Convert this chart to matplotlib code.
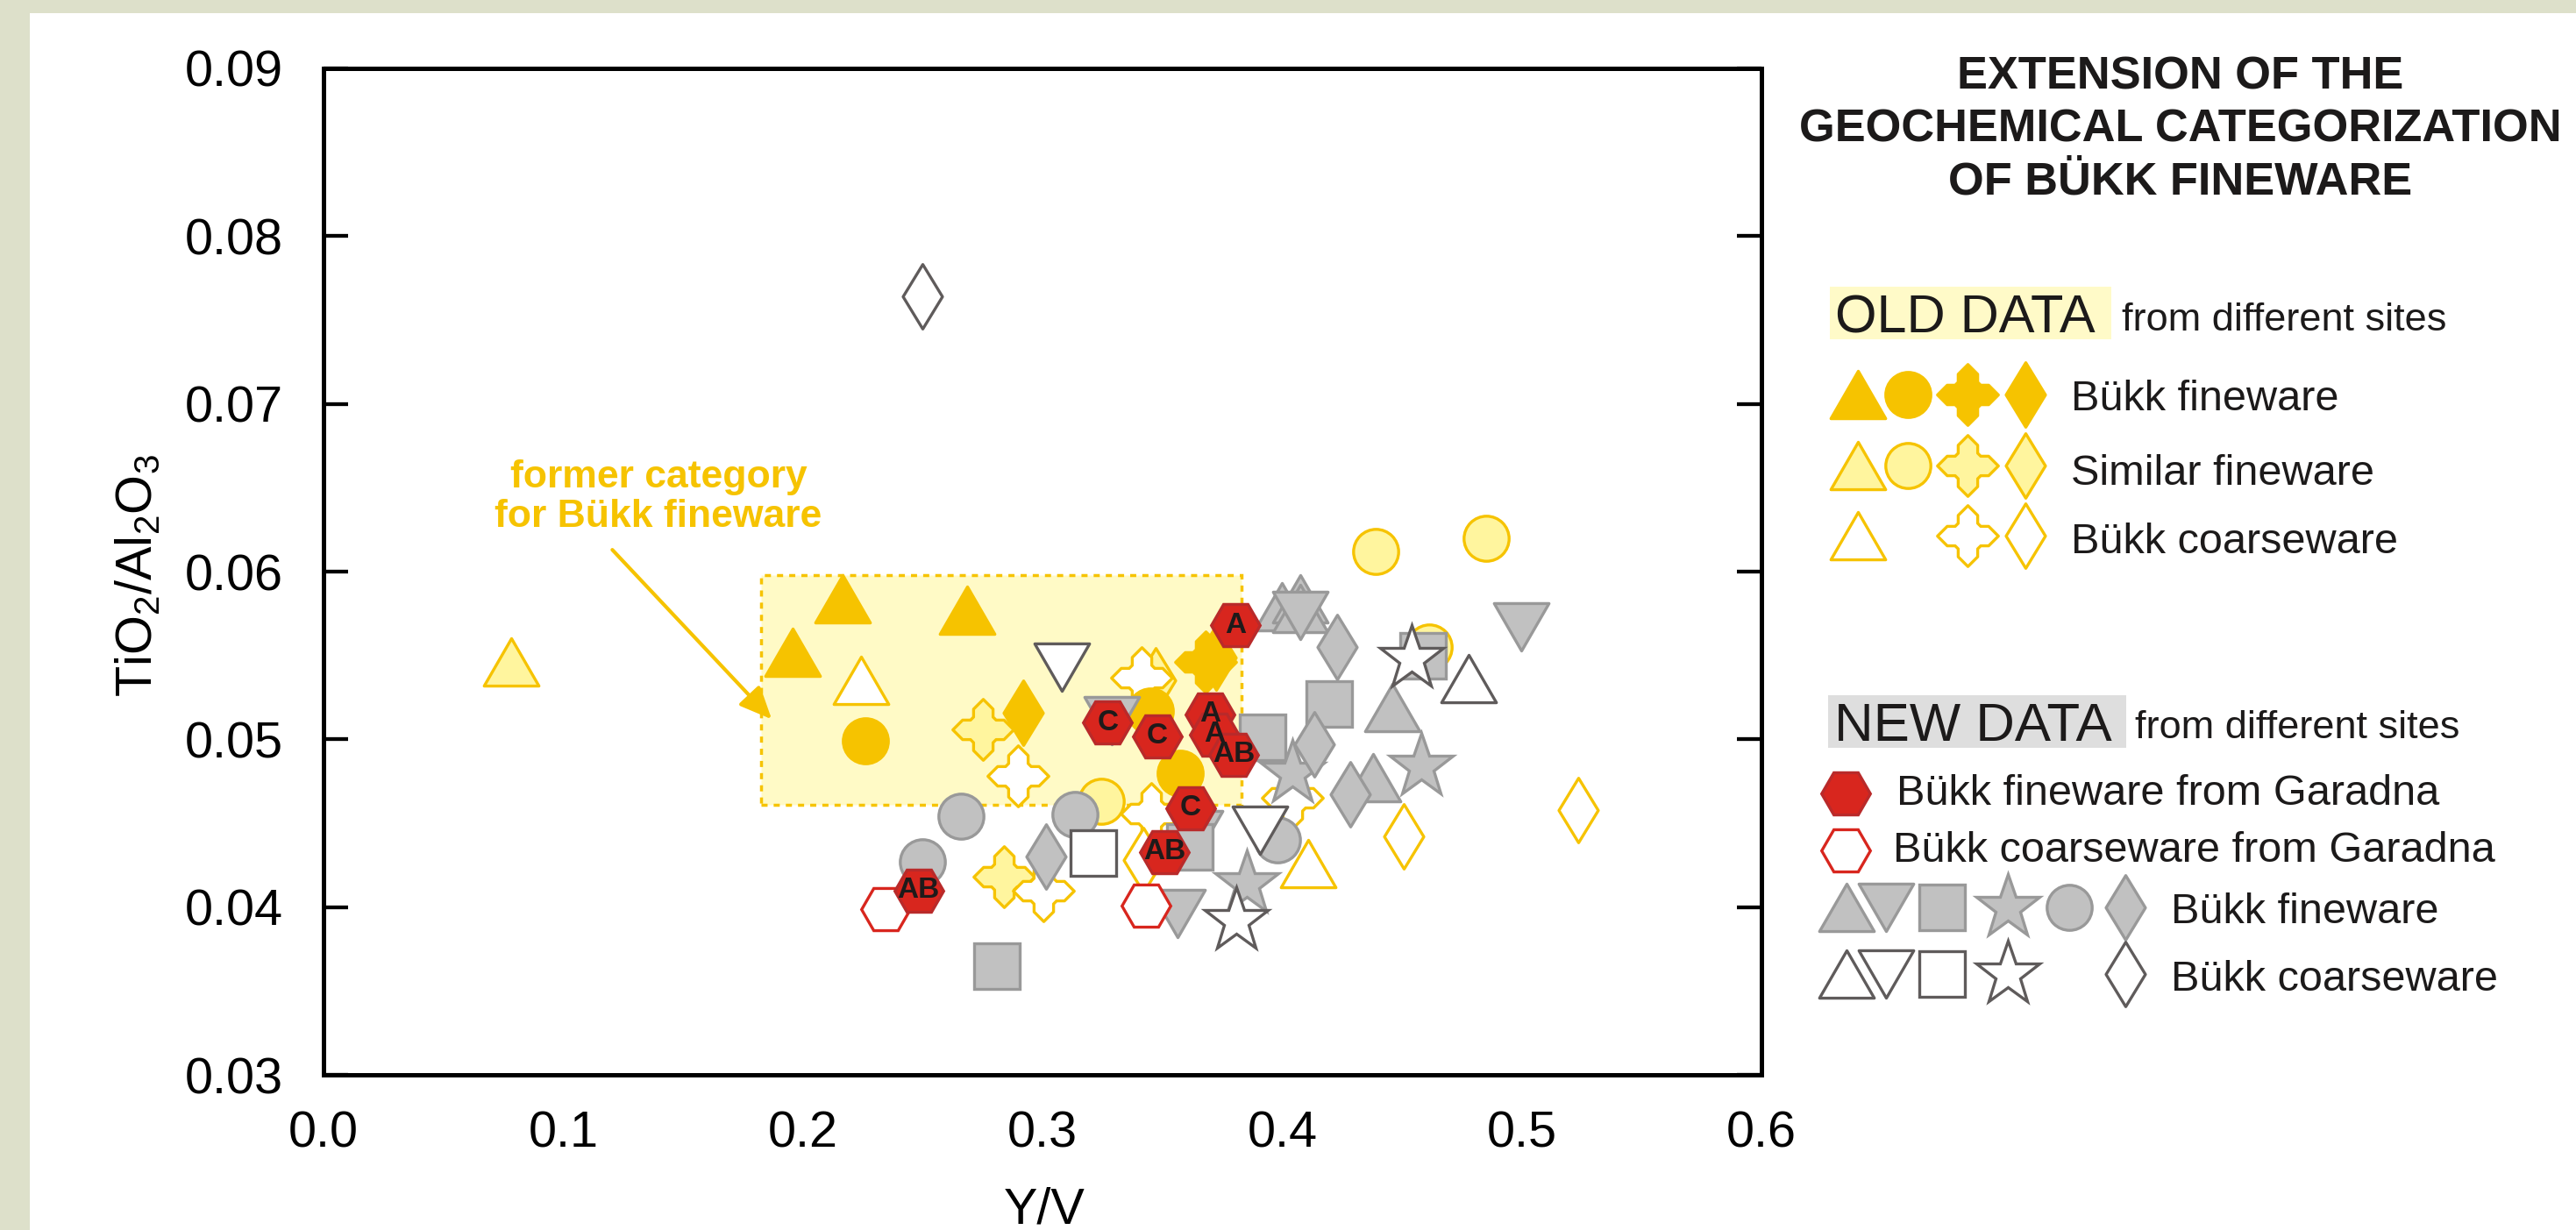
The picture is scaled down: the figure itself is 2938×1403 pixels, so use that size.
#!/usr/bin/env python3
"""Y/V vs TiO2/Al2O3: extension of the geochemical categorization of Bükk fineware."""

import matplotlib

matplotlib.use("Agg")
import matplotlib.pyplot as plt
from matplotlib.markers import MarkerStyle
from matplotlib.patches import Rectangle
from matplotlib.path import Path

W, H, DPI = 2938, 1403, 100

# ---- data: Y/V (x) and TiO2/Al2O3 (y) ----
# OLD DATA, Bükk fineware (solid yellow)
old_fine_tri_x = [0.1957, 0.2167, 0.2684]
old_fine_tri_y = [0.0552, 0.0584, 0.0577]
old_fine_circle_x = [0.2261, 0.3449, 0.3573]
old_fine_circle_y = [0.0499, 0.0517, 0.0480]
old_fine_cross_x = [0.3680]
old_fine_cross_y = [0.0546]
old_fine_diamond_x = [0.2920, 0.3723]
old_fine_diamond_y = [0.0516, 0.0549]

# OLD DATA, similar fineware (pale yellow)
sim_tri_x = [0.0782]
sim_tri_y = [0.0546]
sim_circle_x = [0.4389, 0.4851, 0.4613, 0.3245]
sim_circle_y = [0.0612, 0.0620, 0.0555, 0.0463]
sim_cross_x = [0.2752, 0.2839]
sim_cross_y = [0.0506, 0.0418]
sim_diamond_x = [0.3472]
sim_diamond_y = [0.0535]

# OLD DATA, Bükk coarseware (open yellow)
old_coarse_tri_x = [0.2243, 0.4108]
old_coarse_tri_y = [0.0535, 0.0426]
old_coarse_cross_x = [0.2899, 0.3412, 0.3002, 0.3454, 0.4042]
old_coarse_cross_y = [0.0478, 0.0537, 0.0410, 0.0456, 0.0465]
old_coarse_diamond_x = [0.4507, 0.5235, 0.3422]
old_coarse_diamond_y = [0.0442, 0.0458, 0.0428]

# NEW DATA, Bükk fineware (grey)
new_fine_tri_x = [0.3998, 0.4077, 0.4077, 0.4459, 0.4380]
new_fine_tri_y = [0.0579, 0.0584, 0.0578, 0.0519, 0.0477]
new_fine_tridown_x = [0.4077, 0.4999, 0.3290, 0.3638, 0.3564]
new_fine_tridown_y = [0.0574, 0.0567, 0.0511, 0.0443, 0.0396]
new_fine_square_x = [0.2809, 0.3614, 0.3920, 0.4197, 0.4586]
new_fine_square_y = [0.0365, 0.0436, 0.0501, 0.0521, 0.0550]
new_fine_star_x = [0.3853, 0.4042, 0.4581]
new_fine_star_y = [0.0414, 0.0480, 0.0484]
new_fine_circle_x = [0.2659, 0.3134, 0.2499, 0.3979]
new_fine_circle_y = [0.0454, 0.0455, 0.0427, 0.0440]
new_fine_diamond_x = [0.3013, 0.4135, 0.4229, 0.4283]
new_fine_diamond_y = [0.0430, 0.0497, 0.0555, 0.0467]

# NEW DATA, Bükk coarseware (open dark grey)
new_coarse_tri_x = [0.4777]
new_coarse_tri_y = [0.0536]
new_coarse_tridown_x = [0.3082, 0.3906]
new_coarse_tridown_y = [0.0543, 0.0446]
new_coarse_square_x = [0.3213]
new_coarse_square_y = [0.0432]
new_coarse_star_x = [0.3808, 0.4541]
new_coarse_star_y = [0.0392, 0.0548]
new_coarse_diamond_x = [0.2499]
new_coarse_diamond_y = [0.0764]

# NEW DATA, Garadna
garadna_fine_x = [0.3806, 0.3699, 0.3717, 0.3797, 0.3272, 0.3479, 0.3617, 0.3509, 0.2483]
garadna_fine_y = [0.0568, 0.0515, 0.0503, 0.0491, 0.0510, 0.0502, 0.0459, 0.0433, 0.0410]
garadna_fine_labels = ["A", "A", "A", "AB", "C", "C", "C", "AB", "AB"]
garadna_coarse_x = [0.2344, 0.3433]
garadna_coarse_y = [0.0399, 0.0401]

# former category for Bükk fineware
former_x = (0.1825, 0.3830)
former_y = (0.0461, 0.0598)

x_ticks = [0.0, 0.1, 0.2, 0.3, 0.4, 0.5, 0.6]
y_ticks = [0.03, 0.04, 0.05, 0.06, 0.07, 0.08, 0.09]

# ---- styles ----
YELLOW = "#f6c300"
PALE = "#fff59e"
GRAY_F = "#c1c1c1"
GRAY_E = "#999999"
DARK = "#5f5b5b"
RED = "#d8261e"
RED_E = "#b92a2a"
FRAME = "#dde0ca"
EDGE_W = 2.4

plt.rcParams["font.family"] = "Liberation Sans"
plt.rcParams["mathtext.fontset"] = "custom"
plt.rcParams["mathtext.rm"] = "Liberation Sans"
plt.rcParams["mathtext.it"] = "Liberation Sans:italic"
plt.rcParams["mathtext.bf"] = "Liberation Sans:bold"


def closed(verts):
    verts = list(verts) + [verts[0]]
    codes = [Path.MOVETO] + [Path.LINETO] * (len(verts) - 2) + [Path.CLOSEPOLY]
    return Path(verts, codes)


w, s, c = 0.16, 0.34, 0.05
CROSS = closed([
    (-w, s), (0, 0.5), (w, s), (w, w + c), (w + c, w), (s, w), (0.5, 0), (s, -w),
    (w + c, -w), (w, -w - c), (w, -s), (0, -0.5), (-w, -s), (-w, -w - c),
    (-w - c, -w), (-s, -w), (-0.5, 0), (-s, w), (-w - c, w), (-w, w + c),
])
TRI_UP = closed([(-0.5, -0.433), (0.5, -0.433), (0, 0.433)])
TRI_DOWN = closed([(-0.5, 0.433), (0.5, 0.433), (0, -0.433)])
DIAMOND = closed([(0, 0.5), (0.305, 0), (0, -0.5), (-0.305, 0)])

MARKERS = {
    "tri": (TRI_UP, 45),
    "tridown": (TRI_DOWN, 45),
    "diamond": (DIAMOND, 53),
    "cross": (CROSS, 50),
    "circle": ("o", 37),
    "square": ("s", 37),
    "star": ("*", 55),
    "hex": ("H", 40),
}

STYLE = {
    "similar": (PALE, YELLOW, 2.0),
    "old_coarse": ("white", YELLOW, 2.1),
    "old_fine": (YELLOW, YELLOW, 2.2),
    "new_fine": (GRAY_F, GRAY_E, 3.0),
    "new_coarse": ("white", DARK, 3.1),
    "garadna_coarse": ("white", RED, 4.0),
    "garadna_fine": (RED, RED_E, 4.1),
}

SERIES = [
    ("similar", "tri", sim_tri_x, sim_tri_y),
    ("similar", "circle", sim_circle_x, sim_circle_y),
    ("similar", "cross", sim_cross_x, sim_cross_y),
    ("similar", "diamond", sim_diamond_x, sim_diamond_y),
    ("old_coarse", "tri", old_coarse_tri_x, old_coarse_tri_y),
    ("old_coarse", "cross", old_coarse_cross_x, old_coarse_cross_y),
    ("old_coarse", "diamond", old_coarse_diamond_x, old_coarse_diamond_y),
    ("old_fine", "tri", old_fine_tri_x, old_fine_tri_y),
    ("old_fine", "circle", old_fine_circle_x, old_fine_circle_y),
    ("old_fine", "cross", old_fine_cross_x, old_fine_cross_y),
    ("old_fine", "diamond", old_fine_diamond_x, old_fine_diamond_y),
    ("new_fine", "tri", new_fine_tri_x, new_fine_tri_y),
    ("new_fine", "tridown", new_fine_tridown_x, new_fine_tridown_y),
    ("new_fine", "square", new_fine_square_x, new_fine_square_y),
    ("new_fine", "star", new_fine_star_x, new_fine_star_y),
    ("new_fine", "circle", new_fine_circle_x, new_fine_circle_y),
    ("new_fine", "diamond", new_fine_diamond_x, new_fine_diamond_y),
    ("new_coarse", "tri", new_coarse_tri_x, new_coarse_tri_y),
    ("new_coarse", "tridown", new_coarse_tridown_x, new_coarse_tridown_y),
    ("new_coarse", "square", new_coarse_square_x, new_coarse_square_y),
    ("new_coarse", "star", new_coarse_star_x, new_coarse_star_y),
    ("new_coarse", "diamond", new_coarse_diamond_x, new_coarse_diamond_y),
    ("garadna_coarse", "hex", garadna_coarse_x, garadna_coarse_y),
    ("garadna_fine", "hex", garadna_fine_x, garadna_fine_y),
]


def draw_marks(ax, x, y, shape, style, zorder=None):
    marker, size = MARKERS[shape]
    face, edge, z = STYLE[style]
    ax.plot(
        x, y, linestyle="none",
        marker=MarkerStyle(marker, joinstyle="miter"),
        markersize=size,
        markerfacecolor=face,
        markeredgecolor=edge,
        markeredgewidth=EDGE_W,
        zorder=z if zorder is None else zorder,
        clip_on=False,
    )


def draw_key(lax):
    for text, base in [("EXTENSION OF THE", 101),
                       ("GEOCHEMICAL CATEGORIZATION", 162),
                       ("OF BÜKK FINEWARE", 221)]:
        lax.text(2487, base, text, ha="center", va="baseline",
                 fontsize=37.7, fontweight="bold", color="#1c1a1a")

    # old data block
    lax.add_patch(Rectangle((2087, 327), 321, 60, facecolor="#fffac8", edgecolor="none"))
    lax.text(2093, 380, "OLD DATA", fontsize=44, va="baseline", color="#1c1a1a")
    lax.text(2420, 377, "from different sites", fontsize=32.5, va="baseline", color="#1c1a1a")
    old_cols = [2119, 2176, 2244.5, 2310]
    old_rows = [
        (450, 468, "Bükk fineware", "old_fine", ["tri", "circle", "cross", "diamond"]),
        (531, 553, "Similar fineware", "similar", ["tri", "circle", "cross", "diamond"]),
        (611, 631, "Bükk coarseware", "old_coarse", ["tri", None, "cross", "diamond"]),
    ]
    for ym, base, label, style, shapes in old_rows:
        for xc, shape in zip(old_cols, shapes):
            if shape:
                draw_marks(lax, [xc], [ym], shape, style)
        lax.text(2362, base, label, fontsize=35, va="baseline", color="#1c1a1a")

    # new data block
    lax.add_patch(Rectangle((2085, 793), 340, 60, facecolor="#dedede", edgecolor="none"))
    lax.text(2092, 845, "NEW DATA", fontsize=44.5, va="baseline", color="#1c1a1a")
    lax.text(2435, 842, "from different sites", fontsize=32.5, va="baseline", color="#1c1a1a")
    draw_marks(lax, [2105], [905], "hex", "garadna_fine")
    lax.text(2163, 918, "Bükk fineware from Garadna", fontsize=35, va="baseline", color="#1c1a1a")
    draw_marks(lax, [2105], [970], "hex", "garadna_coarse")
    lax.text(2159, 983, "Bükk coarseware from Garadna", fontsize=35, va="baseline", color="#1c1a1a")
    new_cols = [2106.5, 2151, 2215.5, 2290.5, 2360.5, 2424]
    new_rows = [
        (1035, 1053, "Bükk fineware", "new_fine",
         ["tri", "tridown", "square", "star", "circle", "diamond"]),
        (1111, 1130, "Bükk coarseware", "new_coarse",
         ["tri", "tridown", "square", "star", None, "diamond"]),
    ]
    for ym, base, label, style, shapes in new_rows:
        for xc, shape in zip(new_cols, shapes):
            if shape:
                draw_marks(lax, [xc], [ym], shape, style)
        lax.text(2476, base, label, fontsize=35, va="baseline", color="#1c1a1a")


def main():
    fig = plt.figure(figsize=(W / DPI, H / DPI), dpi=DPI, facecolor=FRAME)
    fig.add_artist(Rectangle((34 / W, 0), 1, 1 - 15 / H, transform=fig.transFigure,
                             facecolor="white", edgecolor="none", zorder=-5))

    ax = fig.add_axes([369 / W, 1 - 1226 / H, 1640 / W, 1148 / H])
    ax.set_xlim(0.0, 0.6)
    ax.set_ylim(0.03, 0.09)
    ax.set_xticks(x_ticks, [f"{v:.1f}" for v in x_ticks])
    ax.set_yticks(y_ticks, [f"{v:.2f}" for v in y_ticks])
    ax.tick_params(axis="both", direction="in", length=20, width=3.1,
                   labelsize=41.5, color="black")
    ax.tick_params(axis="y", right=True, pad=33)
    ax.tick_params(axis="x", top=False, length=0, pad=29)
    for sp in ax.spines.values():
        sp.set_linewidth(3.6)

    ax.add_patch(Rectangle((former_x[0], former_y[0]), former_x[1] - former_x[0],
                           former_y[1] - former_y[0], facecolor="#fffac6",
                           edgecolor=YELLOW, linewidth=2.5, linestyle=(0, (2, 2)),
                           zorder=1))
    ax.text(0.1398, 0.06502, "former category", ha="center", va="baseline",
            fontsize=32, fontweight="bold", color=YELLOW)
    ax.text(0.1398, 0.06264, "for Bükk fineware", ha="center", va="baseline",
            fontsize=32, fontweight="bold", color=YELLOW)
    ax.annotate("", xy=(0.187, 0.0512), xytext=(0.1205, 0.0613),
                arrowprops=dict(arrowstyle="-|>,head_length=0.9,head_width=0.4",
                                color=YELLOW, lw=3, mutation_scale=25,
                                shrinkA=0, shrinkB=0), zorder=1.5)

    for style, shape, xs, ys in SERIES:
        draw_marks(ax, xs, ys, shape, style)
    for xv, yv, lab in zip(garadna_fine_x, garadna_fine_y, garadna_fine_labels):
        ax.text(xv, yv, lab, ha="center", va="center", fontsize=24,
                fontweight="bold", color="#1e1a1a", zorder=5)

    ax.text(-0.1285, 0.4965, r"TiO$_2$/Al$_2$O$_3$", transform=ax.transAxes,
            rotation=90, ha="center", va="center", fontsize=41.5)
    ax.text(0.5016, (1226 - 1396) / 1148, "Y/V", transform=ax.transAxes,
            ha="center", va="baseline", fontsize=41.5)

    lax = fig.add_axes([0, 0, 1, 1], facecolor="none")
    lax.set_xlim(0, W)
    lax.set_ylim(H, 0)
    lax.axis("off")
    draw_key(lax)

    fig.savefig("out.png", dpi=DPI, facecolor=FRAME)
    plt.close(fig)


if __name__ == "__main__":
    main()
